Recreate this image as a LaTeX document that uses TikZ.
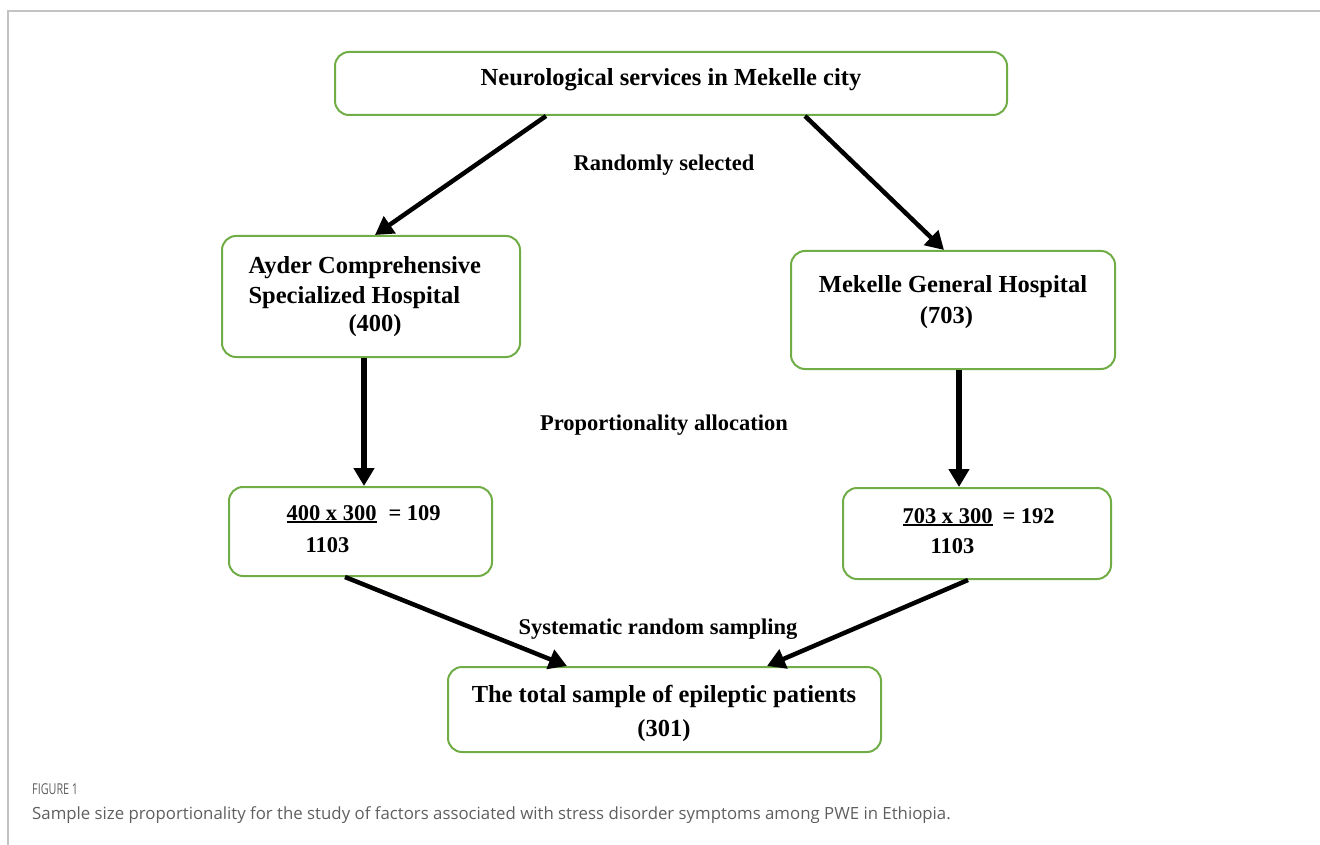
\documentclass[tikz,border=0pt]{standalone}
\usepackage{fontspec}
\setmainfont{Liberation Serif}
\newfontfamily\capfont{Open Sans}
\usetikzlibrary{arrows.meta}
\definecolor{boxgreen}{RGB}{112,173,71}
\definecolor{framegray}{RGB}{195,195,195}
\definecolor{capgray}{RGB}{95,95,95}
\newcommand\thickul[1]{\leavevmode\vtop{\hbox{#1}\kern1.2pt\hrule height1.8pt}}

\begin{document}
\begin{tikzpicture}[x=1pt,y=-1pt,
  box/.style={draw=boxgreen,line width=2pt,rounded corners=14pt,inner sep=0pt},
  big/.style={font=\fontsize{24.5}{29}\selectfont\bfseries},
  small/.style={font=\fontsize{22.5}{27}\selectfont\bfseries},
  arw/.style={line width=4.5pt,-{Triangle[length=18pt,width=20pt]}}]
  \useasboundingbox (0,0) rectangle (1320,845);
  \draw[framegray,line width=2pt] (8,845) -- (8,11) -- (1320,11);

  % boxes
  \node[box,minimum width=672pt,minimum height=63pt] (city) at (671,83.5) {};
  \node[box,minimum width=298pt,minimum height=121pt] (ayder) at (371,296.5) {};
  \node[box,minimum width=324pt,minimum height=118pt] (mgh) at (953,310) {};
  \node[box,minimum width=263pt,minimum height=89pt] (propA) at (360.5,531.5) {};
  \node[box,minimum width=268pt,minimum height=91pt] (propB) at (977,533.5) {};
  \node[box,minimum width=433pt,minimum height=85pt] (total) at (664.5,709.5) {};

  % box texts
  \node[big,anchor=base] (cityT) at (671,86) {Neurological services in Mekelle city};
  \node[big,anchor=base west] (ayderT1) at (245,273) {Ayder Comprehensive};
  \node[big,anchor=base west] (ayderT2) at (245,303) {Specialized Hospital};
  \node[big,anchor=base west] (ayderT3) at (345,331) {(400)};
  \node[big,anchor=base] (mghT1) at (953,292) {Mekelle General Hospital};
  \node[big,anchor=base] (mghT2) at (946.5,323) {(703)};
  \node[small,anchor=base west] (propAT1) at (283,520) {\thickul{400 x 300}\hspace{12pt}= 109};
  \node[small,anchor=base west] (propAT2) at (302,552) {1103};
  \node[small,anchor=base west] (propBT1) at (899,523) {\thickul{703 x 300}\hspace{10pt}= 192};
  \node[small,anchor=base west] (propBT2) at (927,553) {1103};
  \node[big,anchor=base] (totalT1) at (664,702) {The total sample of epileptic patients};
  \node[big,anchor=base] (totalT2) at (664,736) {(301)};

  % labels between the steps
  \node[small,anchor=base] (randL) at (664,171) {Randomly selected};
  \node[small,anchor=base] (propL) at (664,430) {Proportionality allocation};
  \node[small,anchor=base] (sysL) at (658,634) {Systematic random sampling};

  % arrows
  \draw[arw] ([xshift=-125pt]city.south) -- ([xshift=4pt]ayder.north);
  \draw[arw] ([xshift=134pt]city.south) -- ([xshift=-9pt]mgh.north);
  \draw[arw,line width=5.5pt] ([xshift=-7pt]ayder.south) -- ([xshift=3.5pt]propA.north);
  \draw[arw,line width=5.5pt] ([xshift=6pt]mgh.south) -- ([xshift=-18pt]propB.north);
  \draw[arw] ([xshift=-15.5pt]propA.south) -- ([xshift=-97.5pt]total.north);
  \draw[arw] ([xshift=-9pt]propB.south) -- ([xshift=102.5pt]total.north);

  % caption
  \node[anchor=base west,inner sep=0pt,text=capgray,font=\capfont\fontsize{15}{18}\selectfont] (figL) at (32,794) {\scalebox{0.72}[1]{FIGURE 1}};
  \node[anchor=base west,inner sep=0pt,text=capgray,font=\capfont\fontsize{16.8}{20}\selectfont] (capL) at (32,819) {Sample size proportionality for the study of factors associated with stress disorder symptoms among PWE in Ethiopia.};
\end{tikzpicture}
\end{document}
